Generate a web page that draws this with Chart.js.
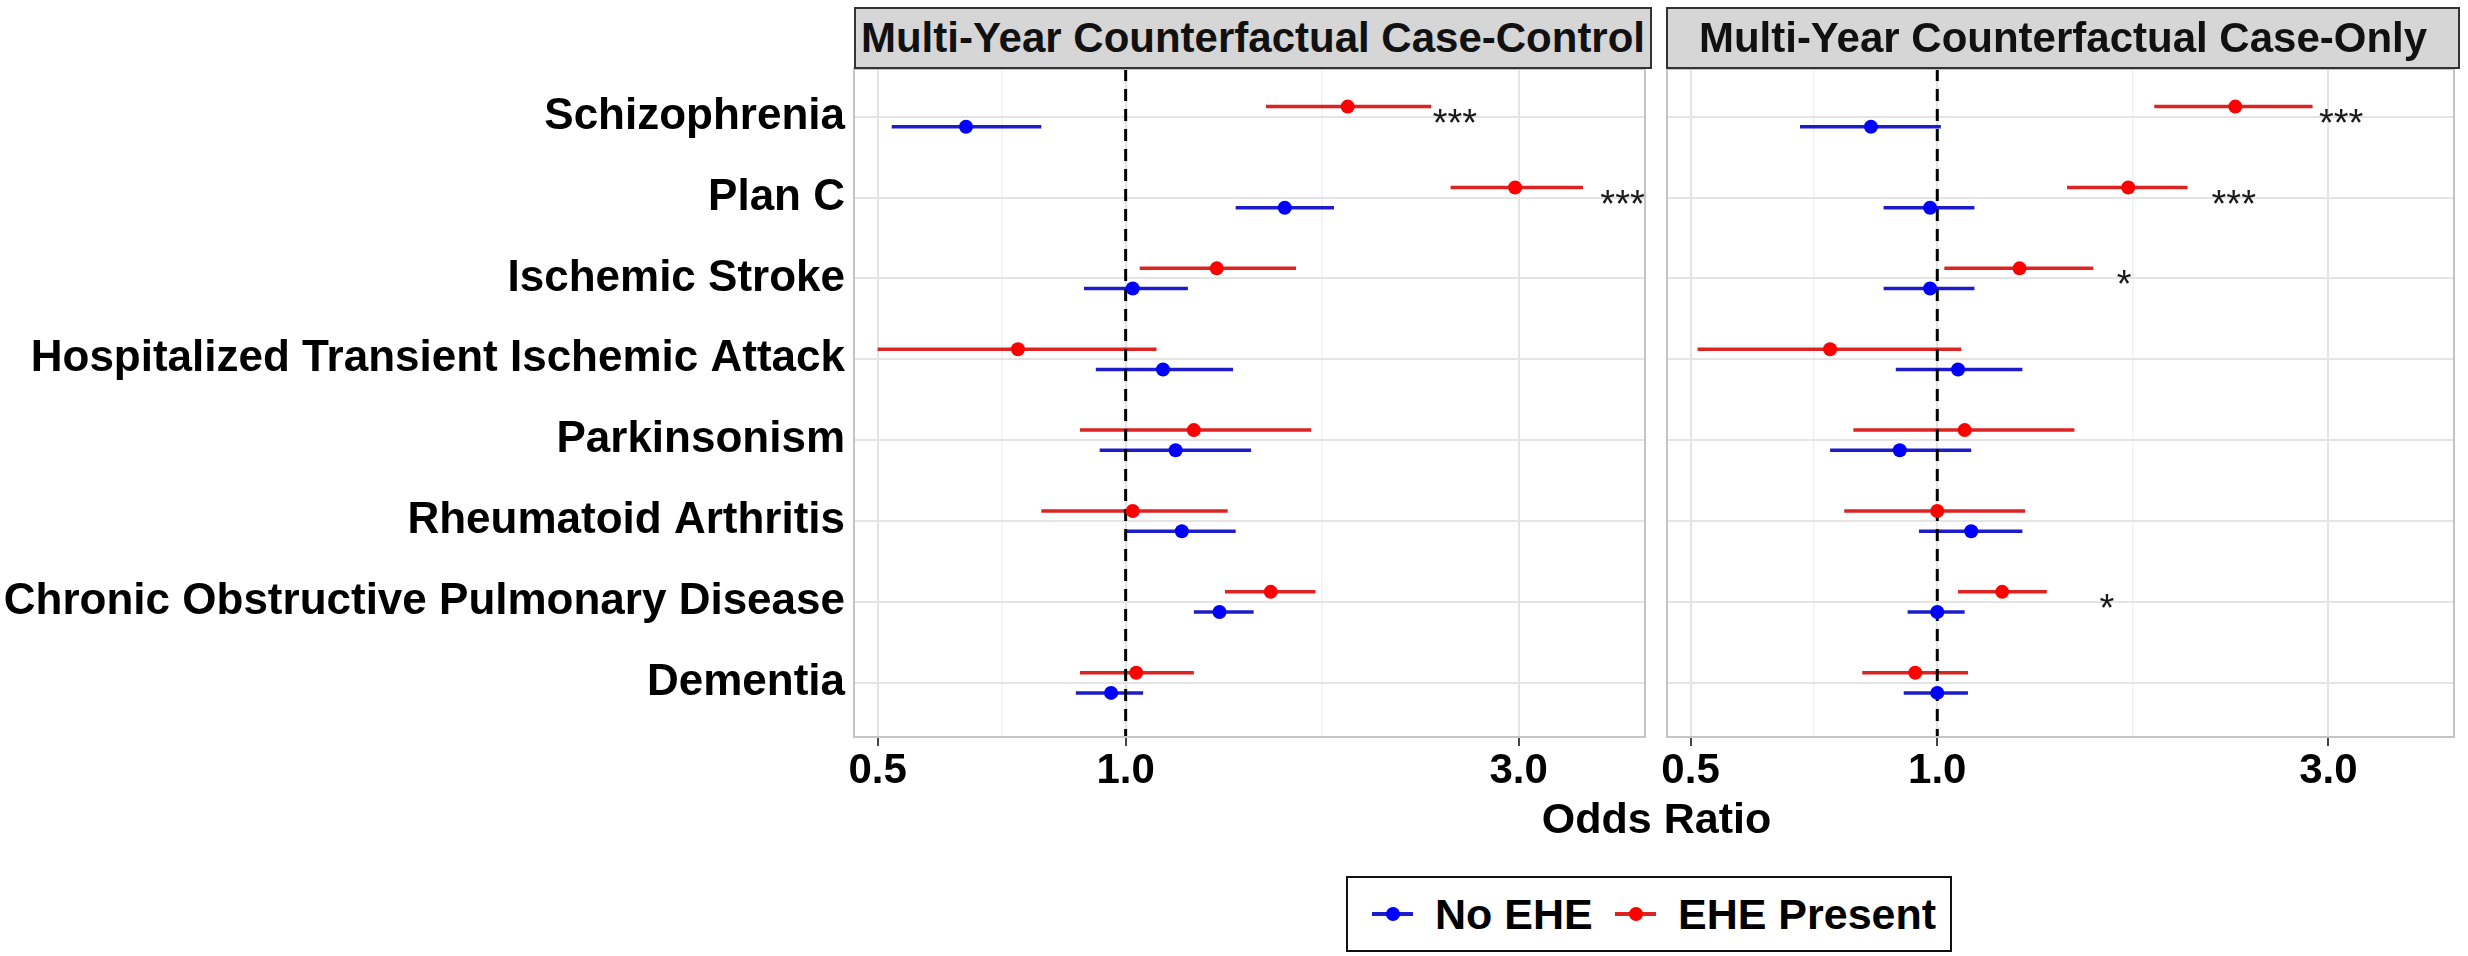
<!DOCTYPE html>
<html>
<head>
<meta charset="utf-8">
<script src="https://cdn.jsdelivr.net/npm/chart.js@4.4.1/dist/chart.umd.min.js"></script>
<style>
  html, body { margin: 0; padding: 0; background: #fff; }
  body { width: 2468px; height: 956px; position: relative; overflow: hidden;
         font-family: "Liberation Sans", Arial, sans-serif; }
  canvas { position: absolute; top: 0; }
  .strip { position: absolute; top: 7px; height: 62px; box-sizing: border-box;
           background: #d6d6d6; border: 2px solid #333; color: #111;
           font-weight: bold; font-size: 42px; line-height: 58px; text-align: center;
           white-space: nowrap; overflow: hidden; }
  .axis-title { position: absolute; left: 854px; width: 1605px; top: 793px;
                font-weight: bold; font-size: 43px; line-height: 50px; text-align: center; color: #000; }
  .legend { position: absolute; left: 1346px; top: 876px; width: 606px; height: 76px;
            box-sizing: border-box; border: 2px solid #111; background: #fff; }
  .legend .line { position: absolute; top: 34px; width: 41px; height: 4px; }
  .legend .dot { position: absolute; top: 29px; width: 14px; height: 14px; border-radius: 50%; }
  .legend .lab { position: absolute; top: 0; height: 72px; line-height: 72px;
                 font-weight: bold; font-size: 43px; color: #000; white-space: nowrap; }
</style>
</head>
<body>
<canvas id="ccChart" width="1652" height="800" style="left:0px;width:1652px;height:800px"></canvas>
<canvas id="coChart" width="804" height="800" style="left:1657px;width:804px;height:800px"></canvas>

<div class="strip" id="strip1" style="left:854px;width:798px"></div>
<div class="strip" id="strip2" style="left:1666px;width:794px"></div>
<div class="axis-title">Odds Ratio</div>

<div class="legend">
  <div class="line" style="left:24px;background:#1c1ccc"></div>
  <div class="dot" style="left:38px;background:#0000ff"></div>
  <div class="lab" style="left:87px">No EHE</div>
  <div class="line" style="left:267px;background:#dd2222"></div>
  <div class="dot" style="left:281px;background:#ff0000"></div>
  <div class="lab" style="left:330px">EHE Present</div>
</div>

<script>
// === DATA ===
const categories = [
  "Schizophrenia",
  "Plan C",
  "Ischemic Stroke",
  "Hospitalized Transient Ischemic Attack",
  "Parkinsonism",
  "Rheumatoid Arthritis",
  "Chronic Obstructive Pulmonary Disease",
  "Dementia"
];
const panelTitles = ["Multi-Year Counterfactual Case-Control", "Multi-Year Counterfactual Case-Only"];
const xTickValues = [0.5, 1.0, 3.0];
const xMinorValues = [0.707, 1.732];

// Case-Control: EHE Present (red)
const ccEheOR = [1.86, 2.97, 1.29, 0.74, 1.21, 1.02, 1.50, 1.03];
const ccEheLo = [1.48, 2.48, 1.04, 0.50, 0.88, 0.79, 1.32, 0.88];
const ccEheHi = [2.35, 3.59, 1.61, 1.09, 1.68, 1.33, 1.70, 1.21];
// Case-Control: No EHE (blue)
const ccNoOR = [0.64, 1.56, 1.02, 1.11, 1.15, 1.17, 1.30, 0.96];
const ccNoLo = [0.52, 1.36, 0.89, 0.92, 0.93, 1.00, 1.21, 0.87];
const ccNoHi = [0.79, 1.79, 1.19, 1.35, 1.42, 1.36, 1.43, 1.05];
// Case-Control significance marks
const ccSigText = ["***", "***", "", "", "", "", "", ""];
const ccSigX = [2.51, 4.01, null, null, null, null, null, null];

// Case-Only: EHE Present (red)
const coEheOR = [2.31, 1.71, 1.26, 0.74, 1.08, 1.00, 1.20, 0.94];
const coEheLo = [1.84, 1.44, 1.02, 0.51, 0.79, 0.77, 1.06, 0.81];
const coEheHi = [2.87, 2.02, 1.55, 1.07, 1.47, 1.28, 1.36, 1.09];
// Case-Only: No EHE (blue)
const coNoOR = [0.83, 0.98, 0.98, 1.06, 0.90, 1.10, 1.00, 1.00];
const coNoLo = [0.68, 0.86, 0.86, 0.89, 0.74, 0.95, 0.92, 0.91];
const coNoHi = [1.01, 1.11, 1.11, 1.27, 1.10, 1.27, 1.08, 1.09];
// Case-Only significance marks
const coSigText = ["***", "***", "*", "", "", "", "*", ""];
const coSigX = [3.11, 2.30, 1.69, null, null, null, 1.61, null];

// === STYLE ===
const FONT = '"Liberation Sans", Arial, sans-serif';
const RED_LINE = "#dd2222", RED_PT = "#ff0000";
const BLUE_LINE = "#1c1ccc", BLUE_PT = "#0000ff";
const X_MIN = 0.468, X_MAX = 4.27;
const Y_MIN = -0.59, Y_MAX = 7.67;
const DODGE = 0.125;

document.getElementById("strip1").textContent = panelTitles[0];
document.getElementById("strip2").textContent = panelTitles[1];

// === PLUGIN: panel border + significance stars ===
const panelDecor = {
  id: "panelDecor",
  afterDatasetsDraw(chart, args, opts) {
    const { ctx, chartArea, scales } = chart;
    ctx.save();
    // stars
    ctx.font = "38px " + FONT;
    ctx.fillStyle = "#1a1a1a";
    ctx.textAlign = "center";
    ctx.textBaseline = "alphabetic";
    opts.text.forEach((t, i) => {
      if (!t || opts.xs[i] == null) return;
      const px = scales.x.getPixelForValue(opts.xs[i]);
      const py = scales.y.getPixelForValue(i);
      ctx.fillText(t, px, py + 19);
    });
    // panel border
    ctx.strokeStyle = "#c4c4c4";
    ctx.lineWidth = 2;
    ctx.strokeRect(chartArea.left, chartArea.top, chartArea.right - chartArea.left, chartArea.bottom - chartArea.top);
    ctx.restore();
  }
};

// === BUILD ONE PANEL ===
function buildPanel(canvasId, showLabels, yWidth, d) {
  const datasets = [];

  // error bars (one small line per row)
  categories.forEach((c, i) => {
    datasets.push({
      data: [{ x: d.eheLo[i], y: i - DODGE }, { x: d.eheHi[i], y: i - DODGE }],
      showLine: true, pointRadius: 0, borderColor: RED_LINE, borderWidth: 3.5, order: 3
    });
    datasets.push({
      data: [{ x: d.noLo[i], y: i + DODGE }, { x: d.noHi[i], y: i + DODGE }],
      showLine: true, pointRadius: 0, borderColor: BLUE_LINE, borderWidth: 3.5, order: 3
    });
  });

  // reference line at OR = 1
  datasets.push({
    data: [{ x: 1, y: Y_MIN }, { x: 1, y: Y_MAX }],
    showLine: true, pointRadius: 0, borderColor: "#000", borderWidth: 3,
    borderDash: [12, 8], order: 2
  });

  // point estimates
  datasets.push({
    data: d.eheOR.map((v, i) => ({ x: v, y: i - DODGE })),
    pointRadius: 7, pointBackgroundColor: RED_PT, pointBorderWidth: 0, order: 1
  });
  datasets.push({
    data: d.noOR.map((v, i) => ({ x: v, y: i + DODGE })),
    pointRadius: 7, pointBackgroundColor: BLUE_PT, pointBorderWidth: 0, order: 1
  });

  const isMajor = v => xTickValues.includes(v);

  return new Chart(document.getElementById(canvasId), {
    type: "scatter",
    data: { datasets },
    options: {
      responsive: false,
      animation: false,
      devicePixelRatio: 1,
      layout: { padding: { top: 69, right: 2, left: 0, bottom: 0 } },
      plugins: {
        legend: { display: false },
        tooltip: { enabled: false },
        panelDecor: { text: d.sigText, xs: d.sigX }
      },
      scales: {
        x: {
          type: "logarithmic",
          min: X_MIN,
          max: X_MAX,
          afterBuildTicks: s => {
            s.ticks = xTickValues.concat(xMinorValues).sort((a, b) => a - b).map(v => ({ value: v }));
          },
          afterFit: s => { s.height = 63; s.paddingLeft = 0; s.paddingRight = 0; },
          ticks: {
            autoSkip: false, maxRotation: 0, padding: 0, color: "#000",
            font: { family: FONT, size: 42, weight: "bold" },
            callback: v => isMajor(v) ? v.toFixed(1) : ""
          },
          grid: {
            color: c => isMajor(c.tick.value) ? "#e4e4e4" : "#f1f1f1",
            lineWidth: c => isMajor(c.tick.value) ? 2 : 1.5,
            tickColor: c => isMajor(c.tick.value) ? "#444" : "rgba(0,0,0,0)",
            tickLength: 9,
            tickWidth: 2
          },
          border: { display: false }
        },
        y: {
          type: "linear",
          reverse: true,
          min: Y_MIN,
          max: Y_MAX,
          afterBuildTicks: s => { s.ticks = categories.map((c, i) => ({ value: i })); },
          afterFit: s => { s.width = yWidth; s.paddingTop = 0; s.paddingBottom = 0; },
          ticks: {
            display: showLabels, autoSkip: false, padding: 9, color: "#000",
            font: { family: FONT, size: 44, weight: "bold" },
            callback: v => categories[v]
          },
          grid: { color: "#e4e4e4", lineWidth: 2, drawTicks: false },
          border: { display: false }
        }
      }
    },
    plugins: [panelDecor]
  });
}

buildPanel("ccChart", true, 854, {
  eheOR: ccEheOR, eheLo: ccEheLo, eheHi: ccEheHi,
  noOR: ccNoOR, noLo: ccNoLo, noHi: ccNoHi,
  sigText: ccSigText, sigX: ccSigX
});
buildPanel("coChart", false, 10, {
  eheOR: coEheOR, eheLo: coEheLo, eheHi: coEheHi,
  noOR: coNoOR, noLo: coNoLo, noHi: coNoHi,
  sigText: coSigText, sigX: coSigX
});
</script>
</body>
</html>
